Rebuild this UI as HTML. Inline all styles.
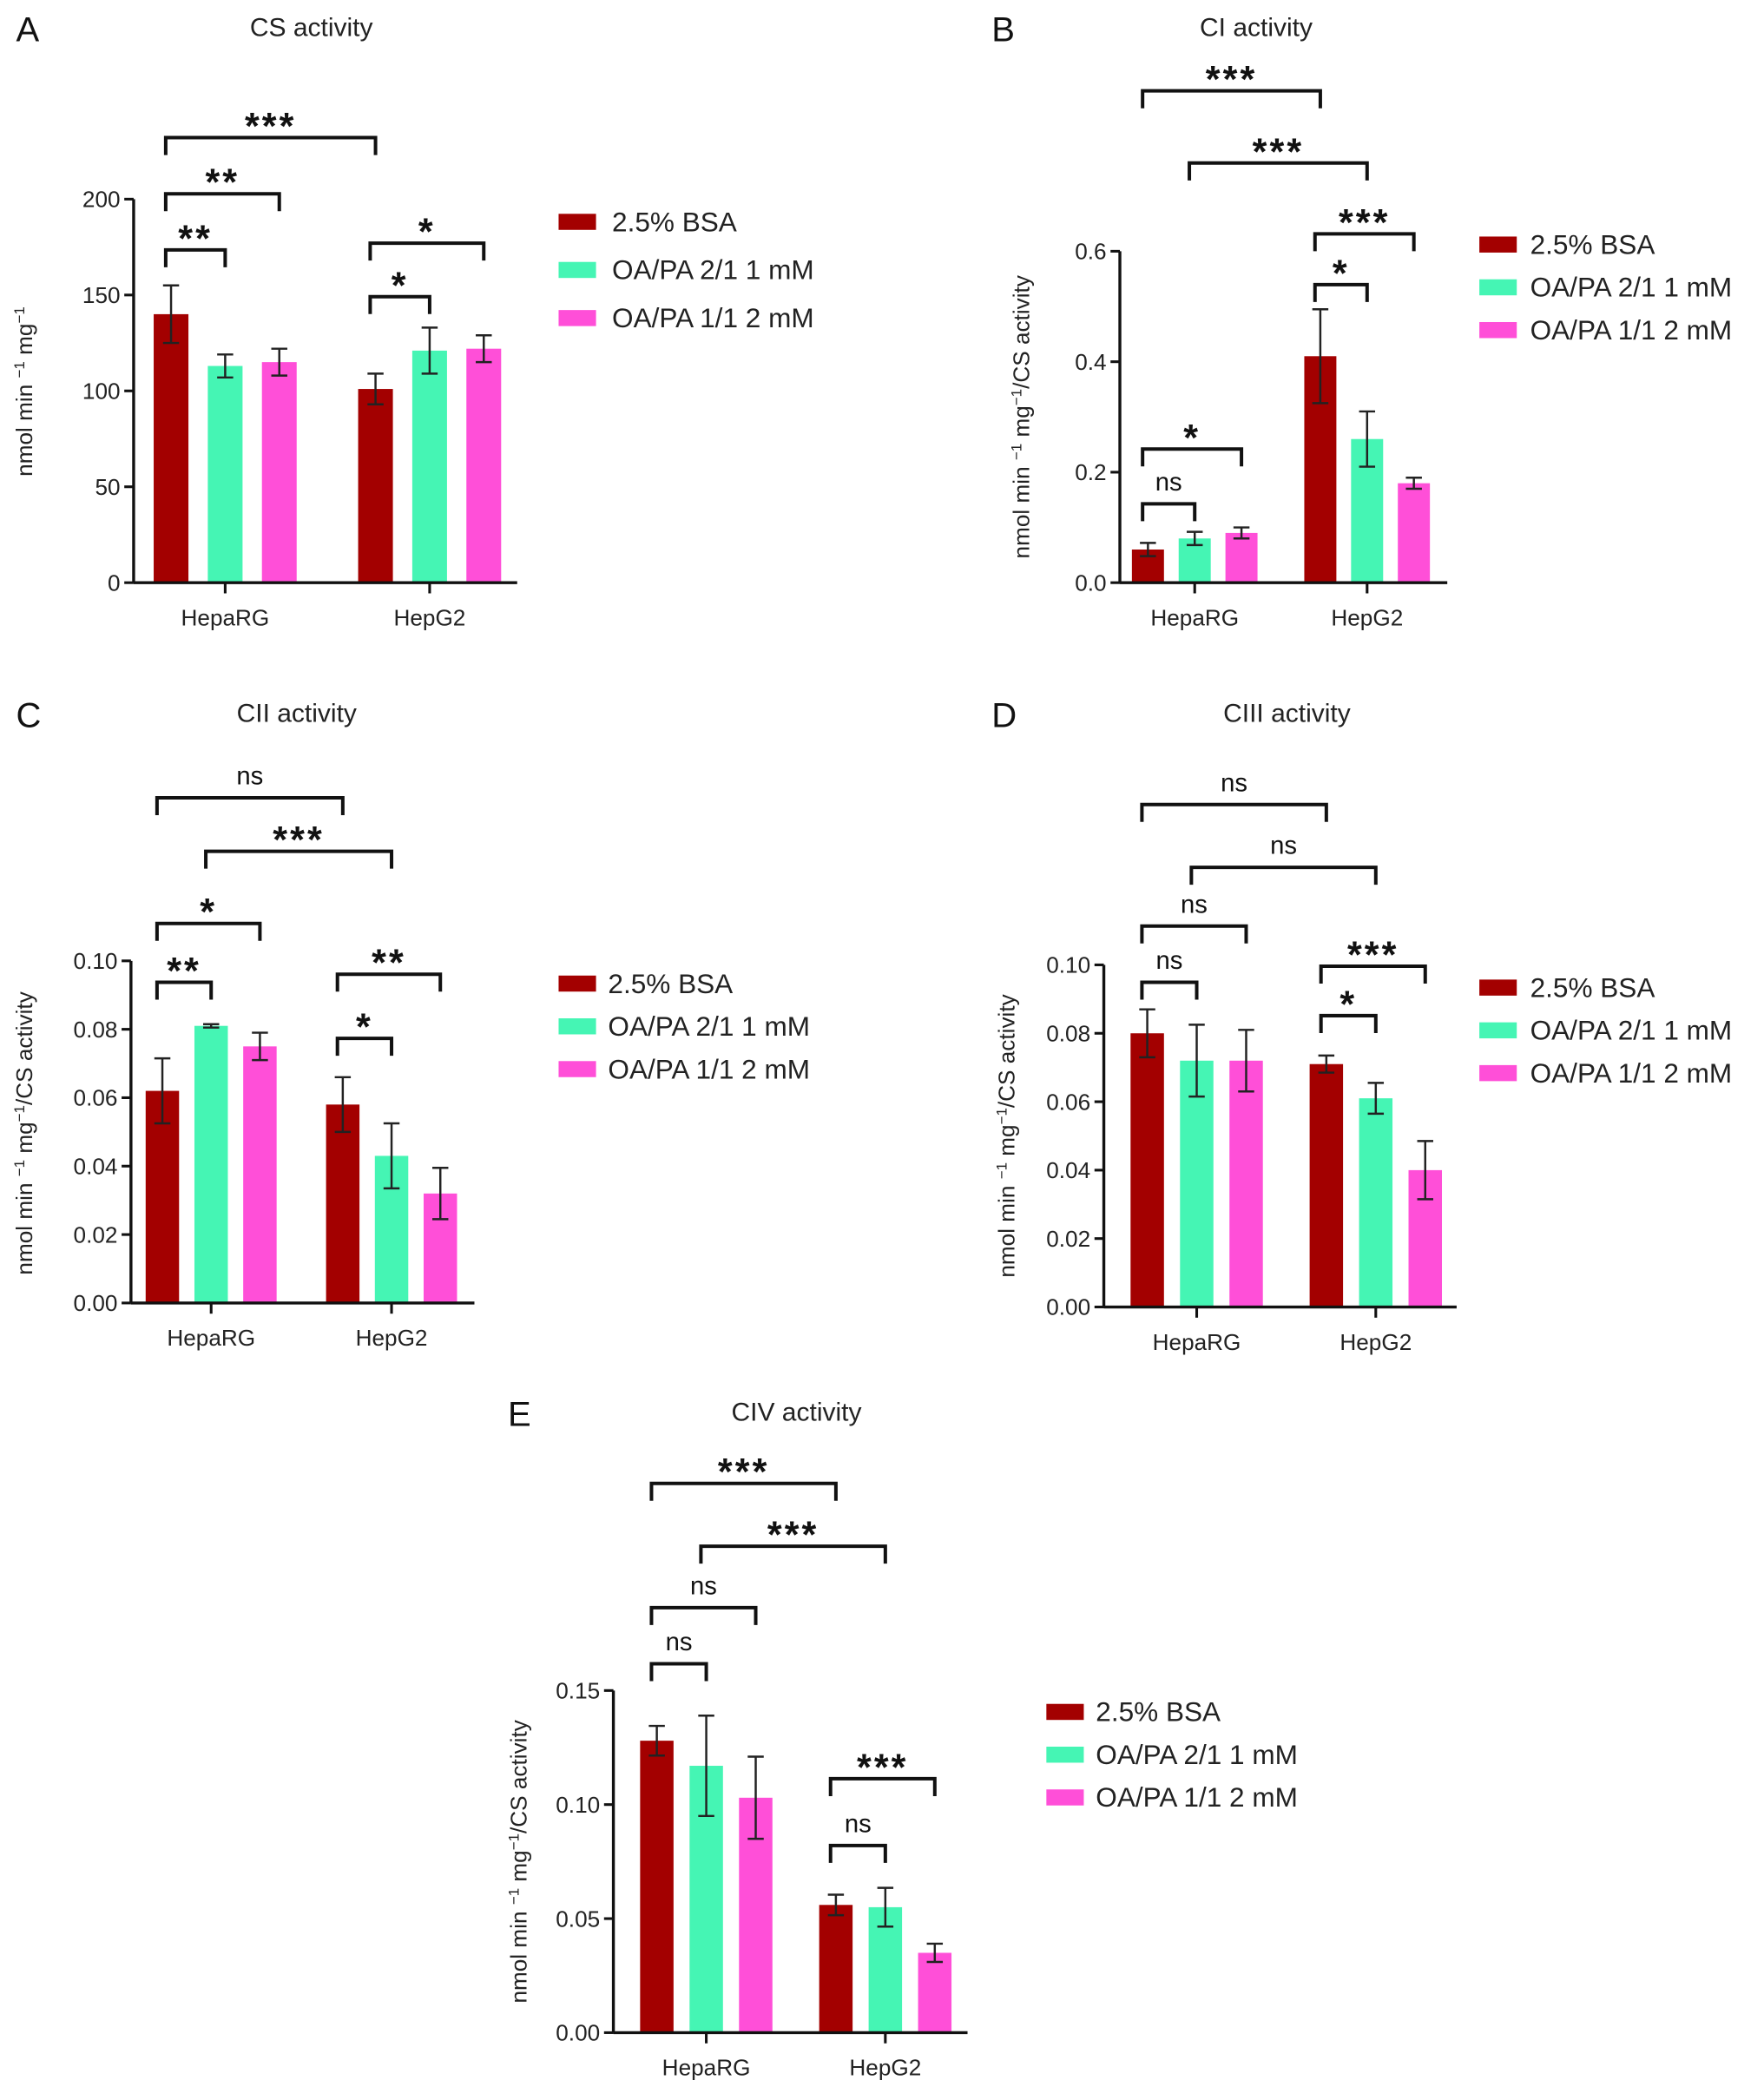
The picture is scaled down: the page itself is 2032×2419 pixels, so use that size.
<!DOCTYPE html>
<html><head><meta charset="utf-8"><style>
html,body{margin:0;padding:0;background:#fff;}
svg{display:block;font-family:"Liberation Sans",Arial,sans-serif;}
</style></head><body>
<svg id="fig" width="2032" height="2419" viewBox="0 0 1320 1571.4" xmlns="http://www.w3.org/2000/svg"></svg>
<script>
const seriesNames = ["2.5% BSA","OA/PA 2/1 1 mM","OA/PA 1/1 2 mM"];
const seriesColors = ["#a30000","#45f5b4","#ff4fd8"];
const categories = ["HepaRG","HepG2"];

const csValues = [[140,113,115],[101,121,122]];
const csErrors = [[15,6,7],[8,12,7]];
const csTicks = ["0","50","100","150","200"];

const ciValues = [[0.06,0.08,0.09],[0.41,0.26,0.18]];
const ciErrors = [[0.012,0.012,0.01],[0.085,0.05,0.01]];
const ciTicks = ["0.0","0.2","0.4","0.6"];

const ciiValues = [[0.062,0.081,0.075],[0.058,0.043,0.032]];
const ciiErrors = [[0.0095,0.0005,0.004],[0.008,0.0095,0.0075]];
const ciiTicks = ["0.00","0.02","0.04","0.06","0.08","0.10"];

const ciiiValues = [[0.080,0.072,0.072],[0.071,0.061,0.040]];
const ciiiErrors = [[0.007,0.0105,0.009],[0.0025,0.0045,0.0085]];
const ciiiTicks = ["0.00","0.02","0.04","0.06","0.08","0.10"];

const civValues = [[0.128,0.117,0.103],[0.056,0.055,0.035]];
const civErrors = [[0.0065,0.022,0.018],[0.0045,0.0085,0.004]];
const civTicks = ["0.00","0.05","0.10","0.15"];

const NS = "http://www.w3.org/2000/svg";
const svg = document.getElementById('fig');
function mk(tag, attrs, parent){const e=document.createElementNS(NS,tag);for(const k in attrs)e.setAttribute(k,attrs[k]);(parent||svg).appendChild(e);return e;}

const panels = [
 {id:"cs",letter:"A",lx:12,title:"CS activity",tx:233,ty:27,values:csValues,errors:csErrors,ticks:csTicks,
  ax:100,axEnd:387,y0:436,yTop:149,g:[115,268],step:40.5,w:26,leg:[418,166,458],ytx:24,yty:293,ytitle:"A",
  brackets:[[0,3,103,"***"],[0,2,145,"**"],[0,1,187,"**"],[3,5,182,"*"],[3,4,222,"*"]]},
 {id:"ci",letter:"B",lx:742,title:"CI activity",tx:940,ty:27,values:ciValues,errors:ciErrors,ticks:ciTicks,
  ax:838,axEnd:1083,y0:436,yTop:188,g:[847,976],step:35,w:24,leg:[1107,183,1145],ytx:770,yty:312,ytitle:"B",
  brackets:[[0,3,68,"***"],[1,4,122,"***"],[3,5,175,"***"],[3,4,213,"*"],[0,2,336,"*"],[0,1,377,"ns"]]},
 {id:"cii",letter:"C",lx:12,title:"CII activity",tx:222,ty:540,values:ciiValues,errors:ciiErrors,ticks:ciiTicks,
  ax:98,axEnd:355,y0:975,yTop:719,g:[109,244],step:36.5,w:25,leg:[418,736,455],ytx:24,yty:848,ytitle:"B",
  brackets:[[0,3,597,"ns"],[1,4,637,"***"],[0,2,691,"*"],[0,1,735,"**"],[3,5,729,"**"],[3,4,777,"*"]]},
 {id:"ciii",letter:"D",lx:742,title:"CIII activity",tx:963,ty:540,values:ciiiValues,errors:ciiiErrors,ticks:ciiiTicks,
  ax:826,axEnd:1090,y0:978,yTop:722,g:[846,980],step:37,w:25,leg:[1107,739,1145],ytx:759,yty:850,ytitle:"B",
  brackets:[[0,3,602,"ns"],[1,4,649,"ns"],[0,2,693,"ns"],[0,1,735,"ns"],[3,5,723,"***"],[3,4,760,"*"]]},
 {id:"civ",letter:"E",lx:380,title:"CIV activity",tx:596,ty:1063,values:civValues,errors:civErrors,ticks:civTicks,
  ax:459,axEnd:724,y0:1521,yTop:1265,g:[479,613],step:37,w:25,leg:[783,1281,820],ytx:394,yty:1393,ytitle:"B",
  brackets:[[0,3,1110,"***"],[1,4,1157,"***"],[0,2,1203,"ns"],[0,1,1245,"ns"],[3,5,1331,"***"],[3,4,1381,"ns"]]}
];

panels.forEach(p=>{
  const g = mk('g',{});
  
  
  const tmax = parseFloat(p.ticks[p.ticks.length-1]);
  const yS = v => p.y0 - (v/tmax)*(p.y0-p.yTop);
  const barX = (gi,si) => p.g[gi] + si*p.step;
  const barC = idx => barX(Math.floor(idx/3), idx%3) + p.w/2;

  const L = mk('text',{x:p.lx,y:p.ty+4,'font-size':26,fill:'#111'},g); L.textContent=p.letter;
  
  
  const T = mk('text',{x:p.tx,y:p.ty,'font-size':19.5,'text-anchor':'middle',fill:'#222'},g); T.textContent=p.title;
  
  

  p.values.forEach((grp,gi)=>grp.forEach((v,si)=>{
    const x=barX(gi,si), y=yS(v);
    const r=mk('rect',{x:x,y:y,width:p.w,height:p.y0-y,fill:seriesColors[si]},g);
    
    
    const e=p.errors[gi][si], cx=x+p.w/2;
    const eb=mk('path',{d:`M${cx},${yS(v+e)}V${yS(v-e)}M${cx-6},${yS(v+e)}H${cx+6}M${cx-6},${yS(v-e)}H${cx+6}`,stroke:'#222','stroke-width':1.6,fill:'none'},g);
    
    
  }));

  const ya=mk('path',{d:`M${p.ax},${p.yTop}V${p.y0}`,stroke:'#111','stroke-width':2.2},g);
  
  
  const xa=mk('path',{d:`M${p.ax},${p.y0}H${p.axEnd}`,stroke:'#111','stroke-width':2.2},g);
  
  
  p.ticks.forEach(t=>{
    const y=yS(parseFloat(t));
    mk('path',{d:`M${p.ax-7},${y}H${p.ax}`,stroke:'#111','stroke-width':2},g);
    const tl=mk('text',{x:p.ax-10,y:y+6,'font-size':17,'text-anchor':'end',fill:'#222'},g); tl.textContent=t;
    
    
  });
  categories.forEach((c,gi)=>{
    const cx=(barX(gi,0)+barX(gi,2)+p.w)/2;
    mk('path',{d:`M${cx},${p.y0}V${p.y0+8}`,stroke:'#111','stroke-width':2},g);
    const cl=mk('text',{x:cx,y:p.y0+32,'font-size':17,'text-anchor':'middle',fill:'#222'},g); cl.textContent=c;
    
    
  });

  const yt=mk('text',{x:0,y:0,'font-size':17,'text-anchor':'middle',fill:'#222',transform:`translate(${p.ytx},${p.yty}) rotate(-90)`},g);
  
  
  const parts = [["nmol min ",0],["−1",1],[" mg",0],["−1",1]];
  if(p.ytitle!=="A") parts.push(["/CS activity",0]);
  parts.forEach(([s,sup])=>{
    const ts=mk('tspan',sup?{'font-size':11,'baseline-shift':'super'}:{},yt);
    ts.textContent=s;
  });

  p.brackets.forEach(([a,b,y,lab])=>{
    const x1=barC(a)-4, x2=barC(b);
    const br=mk('path',{d:`M${x1},${y+13}V${y}H${x2}V${y+13}`,stroke:'#111','stroke-width':2.6,fill:'none'},g);
    
    
    const isStar = lab.indexOf('*')>=0;
    const st=mk('text',{x:(x1+x2)/2,y:isStar?y+1:y-10,'font-size':isStar?28:19,'font-weight':isStar?'bold':'normal','text-anchor':'middle',fill:'#111','letter-spacing':isStar?2:0},g);
    st.textContent=lab;
    
    
  });

  seriesNames.forEach((n,i)=>{
    const ly=p.leg[1]+i*(p.id==='cs'?36:32);
    const sw=mk('rect',{x:p.leg[0],y:ly-6,width:28,height:12,fill:seriesColors[i]},g);
    
    
    const lt=mk('text',{x:p.leg[2],y:ly+7,'font-size':20.5,fill:'#222'},g); lt.textContent=n;
    
    
  });
});
</script>
</body></html>
